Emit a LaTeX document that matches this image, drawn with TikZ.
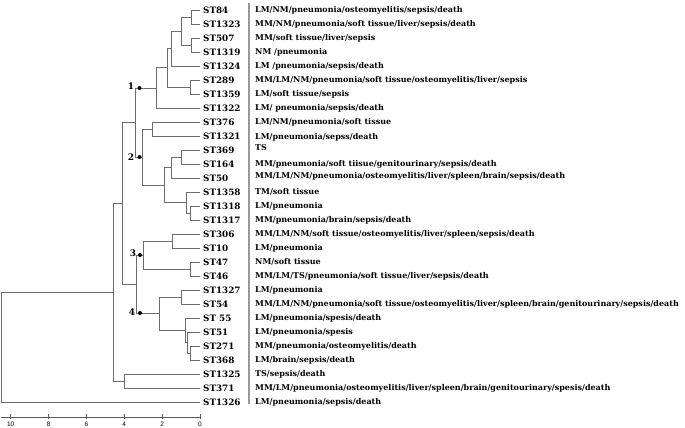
\documentclass[tikz,border=0pt]{standalone}
\usepackage{fontspec}
\newfontfamily\dvserif{DejaVu Serif}
\newfontfamily\lsans{Liberation Sans}
\usetikzlibrary{positioning}

\tikzset{
  branch/.style={draw=gray!85!black, line width=0.9pt},
  leaf/.style={anchor=west, inner xsep=3pt, inner ysep=1pt, font=\dvserif\bfseries\fontsize{8.8}{9}\selectfont},
  desc/.style={anchor=west, inner sep=0pt, font=\dvserif\bfseries\fontsize{8}{8}\selectfont},
  knot/.style={circle, fill=black, inner sep=0pt, minimum size=4pt},
  knotlab/.style={inner sep=0pt, font=\dvserif\bfseries\fontsize{9}{9}\selectfont},
  sepline/.style={draw=gray!80, line width=1.6pt},
  axisline/.style={draw=gray!70!black, line width=0.7pt},
  ticklab/.style={inner sep=0pt, font=\lsans\fontsize{6.5}{6.5}\selectfont}
}

\begin{document}
\begin{tikzpicture}[x=1pt,y=-1pt]
\useasboundingbox (0,0) rectangle (685,428);

% leaves
\node[leaf] (l0) at (200,10) {ST84};
\node[leaf] (l1) at (200,24) {ST1323};
\node[leaf] (l2) at (200,38) {ST507};
\node[leaf] (l3) at (200,52) {ST1319};
\node[leaf] (l4) at (200,66) {ST1324};
\node[leaf] (l5) at (200,80) {ST289};
\node[leaf] (l6) at (200,94) {ST1359};
\node[leaf] (l7) at (200,108) {ST1322};
\node[leaf] (l8) at (200,122) {ST376};
\node[leaf] (l9) at (200,136) {ST1321};
\node[leaf] (l10) at (200,150) {ST369};
\node[leaf] (l11) at (200,164) {ST164};
\node[leaf] (l12) at (200,178) {ST50};
\node[leaf] (l13) at (200,192) {ST1358};
\node[leaf] (l14) at (200,206) {ST1318};
\node[leaf] (l15) at (200,220) {ST1317};
\node[leaf] (l16) at (200,234) {ST306};
\node[leaf] (l17) at (200,248) {ST10};
\node[leaf] (l18) at (200,262) {ST47};
\node[leaf] (l19) at (200,276) {ST46};
\node[leaf] (l20) at (200,290) {ST1327};
\node[leaf] (l21) at (200,304) {ST54};
\node[leaf] (l22) at (200,318) {ST 55};
\node[leaf] (l23) at (200,332) {ST51};
\node[leaf] (l24) at (200,346) {ST271};
\node[leaf] (l25) at (200,360) {ST368};
\node[leaf] (l26) at (200,374) {ST1325};
\node[leaf] (l27) at (200,388) {ST371};
\node[leaf] (l28) at (200,402) {ST1326};

% descriptions
\coordinate (col) at (255,0);
\node[desc] (t0) at (col |- l0) {LM/NM/pneumonia/osteomyelitis/sepsis/death};
\node[desc] (t1) at (col |- l1) {MM/NM/pneumonia/soft tissue/liver/sepsis/death};
\node[desc] (t2) at (col |- l2) {MM/soft tissue/liver/sepsis};
\node[desc] (t3) at (col |- l3) {NM /pneumonia};
\node[desc] (t4) at (col |- l4) {LM /pneumonia/sepsis/death};
\node[desc] (t5) at (col |- l5) {MM/LM/NM/pneumonia/soft tissue/osteomyelitis/liver/sepsis};
\node[desc] (t6) at (col |- l6) {LM/soft tissue/sepsis};
\node[desc] (t7) at (col |- l7) {LM/ pneumonia/sepsis/death};
\node[desc] (t8) at (col |- l8) {LM/NM/pneumonia/soft tissue};
\node[desc] (t9) at (255,137) {LM/pneumonia/sepss/death};
\node[desc] (t10) at (255,148) {TS};
\node[desc] (t11) at (col |- l11) {MM/pneumonia/soft tiisue/genitourinary/sepsis/death};
\node[desc] (t12) at (255,176.5) {MM/LM/NM/pneumonia/osteomyelitis/liver/spleen/brain/sepsis/death};
\node[desc] (t13) at (col |- l13) {TM/soft tissue};
\node[desc] (t14) at (col |- l14) {LM/pneumonia};
\node[desc] (t15) at (col |- l15) {MM/pneumonia/brain/sepsis/death};
\node[desc] (t16) at (col |- l16) {MM/LM/NM/soft tissue/osteomyelitis/liver/spleen/sepsis/death};
\node[desc] (t17) at (col |- l17) {LM/pneumonia};
\node[desc] (t18) at (col |- l18) {NM/soft tissue};
\node[desc] (t19) at (col |- l19) {MM/LM/TS/pneumonia/soft tissue/liver/sepsis/death};
\node[desc] (t20) at (col |- l20) {LM/pneumonia};
\node[desc] (t21) at (col |- l21) {MM/LM/NM/pneumonia/soft tissue/osteomyelitis/liver/spleen/brain/genitourinary/sepsis/death};
\node[desc] (t22) at (col |- l22) {LM/pneumonia/spesis/death};
\node[desc] (t23) at (col |- l23) {LM/pneumonia/spesis};
\node[desc] (t24) at (col |- l24) {MM/pneumonia/osteomyelitis/death};
\node[desc] (t25) at (col |- l25) {LM/brain/sepsis/death};
\node[desc] (t26) at (col |- l26) {TS/sepsis/death};
\node[desc] (t27) at (col |- l27) {MM/LM/pneumonia/osteomyelitis/liver/spleen/brain/genitourinary/spesis/death};
\node[desc] (t28) at (col |- l28) {LM/pneumonia/sepsis/death};
\draw[sepline] (249,3) -- (249,404);

% internal nodes
\coordinate (a) at (191,17);
\coordinate (b) at (191,45);
\coordinate (c) at (181,31);
\coordinate (d) at (171.7,48.5);
\coordinate (e) at (190.5,87);
\coordinate (f) at (167.7,67.8);
\coordinate (g) at (156.7,88);
\coordinate (h) at (152.3,129);
\coordinate (i) at (181,157);
\coordinate (j) at (171.7,167.5);
\coordinate (k) at (190.7,213);
\coordinate (l) at (186.7,202.5);
\coordinate (m) at (164.3,185);
\coordinate (n2) at (142.7,157);
\coordinate (n12) at (135,122.5);
\coordinate (o) at (172.7,241);
\coordinate (p) at (190.7,269);
\coordinate (n3) at (143.3,255);
\coordinate (q) at (181.7,297);
\coordinate (r) at (190.7,353);
\coordinate (s) at (187.3,342.5);
\coordinate (t) at (185,330.3);
\coordinate (n4) at (159.3,313.6);
\coordinate (n34) at (136.7,284.3);
\coordinate (n1234) at (122.7,203.4);
\coordinate (u) at (124,381);
\coordinate (v) at (113,292.2);
\coordinate (root) at (1.7,347);

\foreach \s/\p in {l0/a, l1/a, l2/b, l3/b, a/c, b/c, c/d, l4/d, l5/e, l6/e,
    d/f, e/f, f/g, l7/g, l8/h, l9/h, l10/i, l11/i, i/j, l12/j, l14/k, l15/k,
    l13/l, k/l, j/m, l/m, h/n2, m/n2, g/n12, n2/n12, l16/o, l17/o, l18/p, l19/p,
    o/n3, p/n3, l20/q, l21/q, l24/r, l25/r, l23/s, r/s, l22/t, s/t, q/n4, t/n4,
    n3/n34, n4/n34, n12/n1234, n34/n1234, l26/u, l27/u, n1234/v, u/v, v/root, l28/root}
  \draw[branch] (\s) -| (\p);

% numbered clusters
\node[knot] (k1) at (139.5,88) {};
\node[knot] (k2) at (139.5,157) {};
\node[knot] (k3) at (140,255) {};
\node[knot] (k4) at (140,313) {};
\node[knotlab] (c1) at (131,86) {1};
\node[knotlab] (c2) at (131,157) {2};
\node[knotlab] (c3) at (133,253) {3};
\node[knotlab] (c4) at (132,312) {4};

% axis
\draw[axisline] (1,417) -- (200,417);
\foreach \d in {0,2,4,6,8,10} {
  \draw[axisline] ({200-18.93*\d},414) -- ({200-18.93*\d},419);
  \node[ticklab] (x\d) at ({200-18.93*\d},424) {\d};
}
\end{tikzpicture}
\end{document}
